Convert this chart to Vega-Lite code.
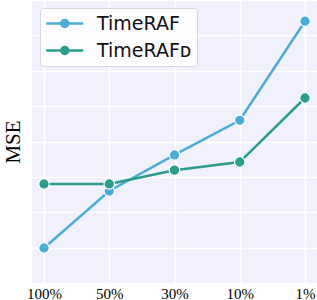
{
  "$schema": "https://vega.github.io/schema/vega-lite/v6.json",
  "width": 285,
  "height": 283,
  "autosize": "none",
  "padding": {"left": 32, "top": 0, "right": 0, "bottom": 17},
  "background": "white",
  "config": {
    "view": {"fill": "#f0f1fd", "stroke": null},
    "axis": {"labelFont": "Liberation Serif", "titleFont": "Liberation Serif", "labelColor": "black", "titleColor": "black"}
  },
  "data": {
    "values": [
      {"ratio": "100%", "model": "TimeRAF", "mse": 0.99},
      {"ratio": "50%", "model": "TimeRAF", "mse": 2.6},
      {"ratio": "30%", "model": "TimeRAF", "mse": 3.62},
      {"ratio": "10%", "model": "TimeRAF", "mse": 4.6},
      {"ratio": "1%", "model": "TimeRAF", "mse": 7.4},
      {"ratio": "100%", "model": "TimeRAFᴅ", "mse": 2.8},
      {"ratio": "50%", "model": "TimeRAFᴅ", "mse": 2.8},
      {"ratio": "30%", "model": "TimeRAFᴅ", "mse": 3.19},
      {"ratio": "10%", "model": "TimeRAFᴅ", "mse": 3.42},
      {"ratio": "1%", "model": "TimeRAFᴅ", "mse": 5.23}
    ]
  },
  "encoding": {
    "x": {
      "field": "ratio", "type": "ordinal",
      "sort": ["100%", "50%", "30%", "10%", "1%"],
      "scale": {"type": "point", "padding": 0.184},
      "axis": {"title": null, "labelAngle": 0, "labelFontSize": 15, "ticks": false, "domain": false, "labelPadding": 3, "grid": true, "gridColor": "white", "gridWidth": 1.5}
    },
    "y": {
      "field": "mse", "type": "quantitative",
      "scale": {"domain": [0, 8], "nice": false},
      "axis": {"title": "MSE", "titleFontSize": 21, "titleFontWeight": "normal", "labels": false, "ticks": false, "domain": false, "tickCount": 8, "grid": true, "gridColor": "white", "gridWidth": 1.5, "titlePadding": 9}
    },
    "color": {
      "field": "model", "type": "nominal",
      "scale": {"domain": ["TimeRAF", "TimeRAFᴅ"], "range": ["#4badd5", "#2a9d8c"]},
      "legend": {
        "title": null,
        "orient": "none", "legendX": 8, "legendY": 8,
        "fillColor": "rgba(255,255,255,0.85)", "strokeColor": "#d8d8d8", "cornerRadius": 3,
        "padding": 5,
        "labelFont": "DejaVu Sans", "labelFontSize": 19, "labelColor": "#111",
        "symbolType": "M-1,0L3,0M0.62,0a0.38,0.38 0 1,0 0.76,0a0.38,0.38 0 1,0 -0.76,0",
        "symbolSize": 342, "symbolStrokeWidth": 2.5, "symbolFillColor": null,
        "rowPadding": 6, "labelOffset": 31
      }
    }
  },
  "layer": [
    {"mark": {"type": "line", "strokeWidth": 2.5}},
    {"mark": {"type": "point", "filled": true, "size": 110, "opacity": 1, "stroke": "white", "strokeWidth": 1.2}}
  ]
}
